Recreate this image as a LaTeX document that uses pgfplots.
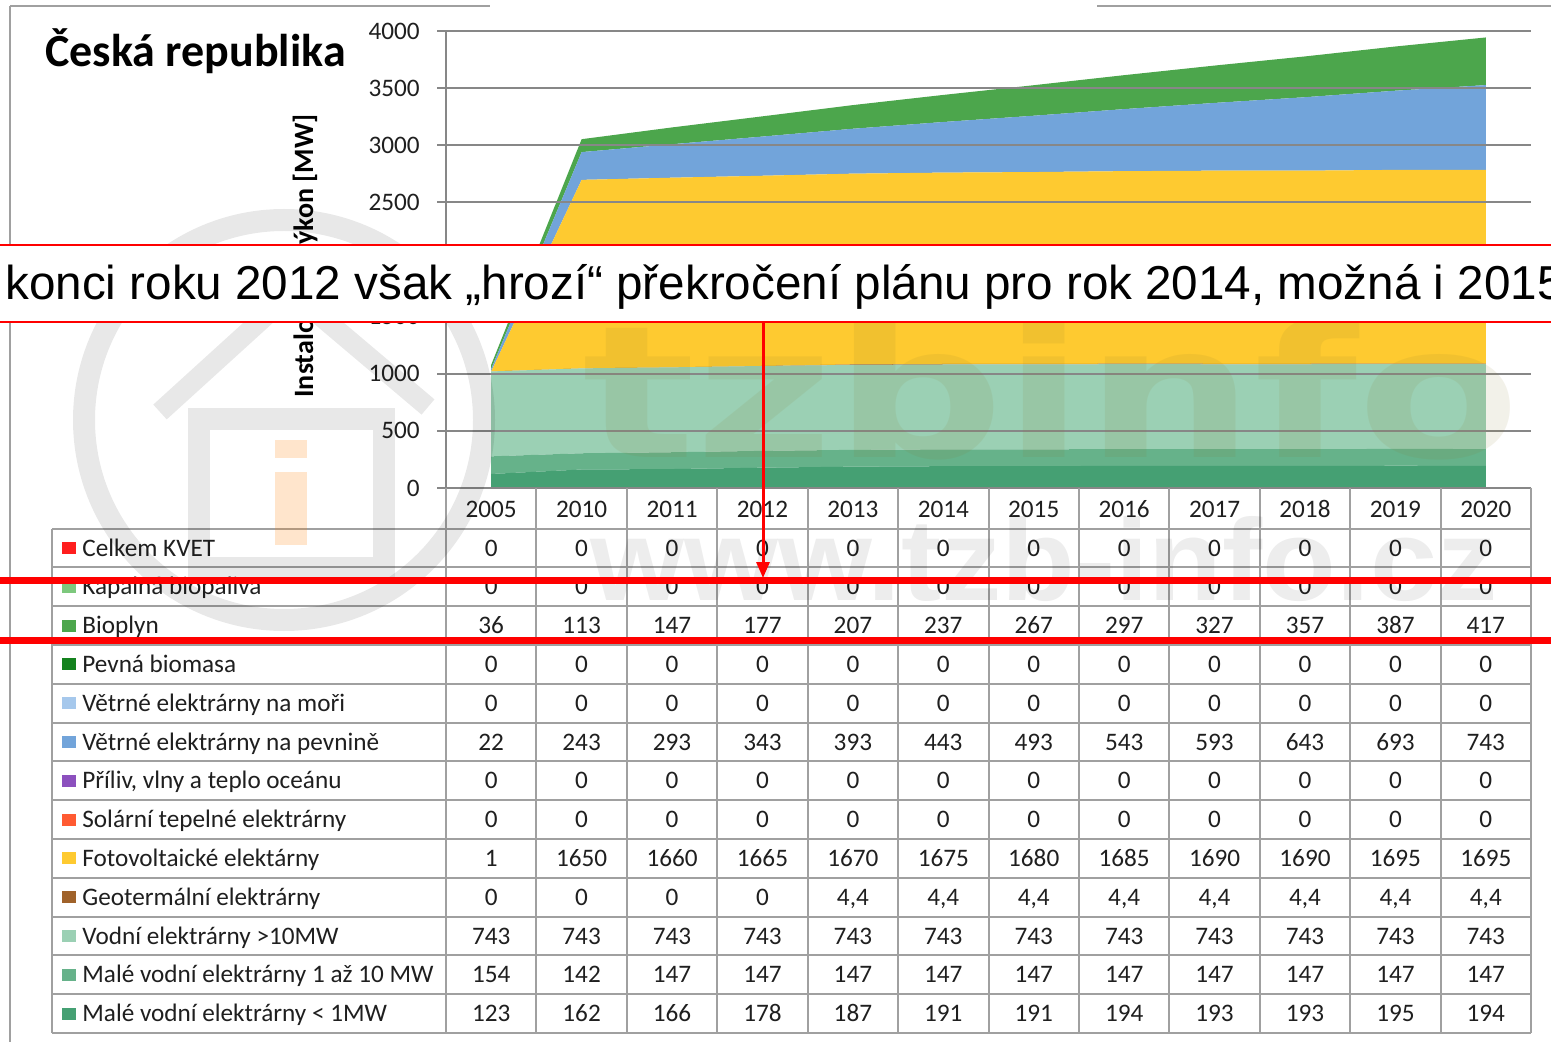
\documentclass[border=0pt]{standalone}
\usepackage{fontspec}
\setmainfont{Carlito}
\newfontfamily\arialf{Liberation Sans}
\newfontfamily\wmfont{DejaVu Sans}
\newfontfamily\wmfontb{Liberation Sans}
\usepackage{pgfplots}
\pgfplotsset{compat=1.18}
\usepackage{pgfplotstable}
\usetikzlibrary{arrows.meta}

\definecolor{cMalA}{RGB}{69,160,115}
\definecolor{cMalB}{RGB}{102,178,138}
\definecolor{cVod}{RGB}{155,208,180}
\definecolor{cGeo}{RGB}{160,98,42}
\definecolor{cFV}{RGB}{254,202,48}
\definecolor{cWind}{RGB}{114,164,218}
\definecolor{cBio}{RGB}{76,166,76}
\definecolor{cKvet}{RGB}{255,30,30}
\definecolor{cKap}{RGB}{125,200,125}
\definecolor{cPevna}{RGB}{20,130,30}
\definecolor{cSea}{RGB}{166,200,236}
\definecolor{cPriliv}{RGB}{140,80,190}
\definecolor{cSolar}{RGB}{255,90,50}
\definecolor{gridgray}{RGB}{135,135,135}
\definecolor{tgray}{RGB}{160,160,160}
\definecolor{wmtext}{RGB}{135,118,40}

\pgfplotstableread{
i mvA mvB vod geo fv wind bio
0 123 154 743 0 1 22 36
1 162 142 743 0 1650 243 113
2 166 147 743 0 1660 293 147
3 178 147 743 0 1665 343 177
4 187 147 743 4.4 1670 393 207
5 191 147 743 4.4 1675 443 237
6 191 147 743 4.4 1680 493 267
7 194 147 743 4.4 1685 543 297
8 193 147 743 4.4 1690 593 327
9 193 147 743 4.4 1690 643 357
10 195 147 743 4.4 1695 693 387
11 194 147 743 4.4 1695 743 417
}\chartdata

\begin{document}
\begin{tikzpicture}
\useasboundingbox (0pt,0pt) rectangle (775.5pt,-521pt);
\clip (0pt,0pt) rectangle (775.5pt,-521pt);
\fill[white] (0pt,0pt) rectangle (775.5pt,-521pt);

\begin{scope}[x=0.5pt,y=-0.5pt]
% outer frame pieces
\draw[tgray, line width=1pt] (10,6) -- (490,6);
\draw[tgray, line width=1pt] (1097,6) -- (1551,6);
\draw[tgray, line width=1pt] (10,6) -- (10,1042);
% title and y label
\node[anchor=base west, inner sep=0pt, font=\bfseries\fontsize{23}{26}\selectfont] at (45,67) {Česká republika};
\node[rotate=90, anchor=base, inner sep=0pt, font=\bfseries\fontsize{14}{16}\selectfont] at (313,256) {Instalovaný výkon [MW]};
\end{scope}

\begin{axis}[
  at={(223pt,-244pt)}, anchor=south west, scale only axis,
  width=542.5pt, height=228.5pt,
  xmin=-0.5, xmax=11.5, ymin=0, ymax=4000,
  stack plots=y,
  axis on top=true,
  separate axis lines,
  axis x line*=bottom, axis y line*=left,
  axis line style={-, draw=gridgray, line width=1pt},
  ymajorgrids, grid style={gridgray, line width=1pt},
  ytick={0,500,...,4000},
  xtick={0,...,11},
  xticklabels={2005,2010,2011,2012,2013,2014,2015,2016,2017,2018,2019,2020},
  major tick length=0pt,
  /pgf/number format/.cd, set thousands separator={}, assume math mode=true, /pgfplots/.cd,
  tick label style={font=\fontsize{12.6}{15}\selectfont, text=black!88},
  yticklabel style={anchor=east, inner sep=0pt, xshift=-13pt},
  xticklabel style={anchor=center, inner sep=0pt, yshift=-10.5pt},
  clip=false,
]
\addplot[fill=cMalA, draw=none] table[x=i,y=mvA]{\chartdata} \closedcycle;
\addplot[fill=cMalB, draw=none] table[x=i,y=mvB]{\chartdata} \closedcycle;
\addplot[fill=cVod, draw=none] table[x=i,y=vod]{\chartdata} \closedcycle;
\addplot[fill=cGeo, draw=none] table[x=i,y=geo]{\chartdata} \closedcycle;
\addplot[fill=cFV, draw=none] table[x=i,y=fv]{\chartdata} \closedcycle;
\addplot[fill=cWind, draw=none] table[x=i,y=wind]{\chartdata} \closedcycle;
\addplot[fill=cBio, draw=none] table[x=i,y=bio]{\chartdata} \closedcycle;
\end{axis}

\begin{scope}[x=0.5pt,y=-0.5pt]
% y tick marks
\foreach \t in {0,...,8} \draw[gridgray, line width=1pt] (437,{488-57.125*\t}) -- (446,{488-57.125*\t});

% table grid
\foreach \r in {0,...,13} \draw[tgray, line width=1pt] (52,{528.6+38.8*\r}) -- (1531,{528.6+38.8*\r});
\draw[tgray, line width=1pt] (52,528.6) -- (52,1033);
\draw[tgray, line width=1pt] (446,488) -- (446,1033);
\foreach \k in {1,...,12} \draw[tgray, line width=1pt] ({446+90.42*\k},488) -- ({446+90.42*\k},1033);

% table rows
\foreach \lab/\col/\vals [count=\r from 0] in {
 {Celkem KVET}/cKvet/{0,0,0,0,0,0,0,0,0,0,0,0},
 {Kapalná biopaliva}/cKap/{0,0,0,0,0,0,0,0,0,0,0,0},
 {Bioplyn}/cBio/{36,113,147,177,207,237,267,297,327,357,387,417},
 {Pevná biomasa}/cPevna/{0,0,0,0,0,0,0,0,0,0,0,0},
 {Větrné elektrárny na moři}/cSea/{0,0,0,0,0,0,0,0,0,0,0,0},
 {Větrné elektrárny na pevnině}/cWind/{22,243,293,343,393,443,493,543,593,643,693,743},
 {Příliv, vlny a teplo oceánu}/cPriliv/{0,0,0,0,0,0,0,0,0,0,0,0},
 {Solární tepelné elektrárny}/cSolar/{0,0,0,0,0,0,0,0,0,0,0,0},
 {Fotovoltaické elektárny}/cFV/{1,1650,1660,1665,1670,1675,1680,1685,1690,1690,1695,1695},
 {Geotermální elektrárny}/cGeo/{0,0,0,0,{4,4},{4,4},{4,4},{4,4},{4,4},{4,4},{4,4},{4,4}},
 {Vodní elektrárny >10MW}/cVod/{743,743,743,743,743,743,743,743,743,743,743,743},
 {Malé vodní elektrárny 1 až 10 MW}/cMalB/{154,142,147,147,147,147,147,147,147,147,147,147},
 {Malé vodní elektrárny < 1MW}/cMalA/{123,162,166,178,187,191,191,194,193,193,195,194}}
{
  \fill[\col] (62,{548+38.8*\r-6}) rectangle (76,{548+38.8*\r+6});
  \node[anchor=base west, inner sep=0pt, font=\fontsize{12.6}{15}\selectfont, text=black!88] at (82,{548+38.8*\r+8}) {\lab};
  \foreach \v [count=\c from 0] in \vals {
    \node[anchor=base, inner sep=0pt, font=\fontsize{12.6}{15}\selectfont, text=black!88] at ({491.2+90.42*\c},{548+38.8*\r+8}) {\v};
  }
}

% watermark
\draw[black, opacity=0.09, line width=11pt] (284,420) circle [radius=200];
\draw[black, opacity=0.09, line width=10pt] (160,412) -- (292,292) -- (428,407);
\draw[black, opacity=0.09, line width=11pt] (199,419) rectangle (384,568);
\fill[orange, opacity=0.2] (275,440) rectangle (307,458);
\fill[orange, opacity=0.2] (275,472) rectangle (307,545);
\node[anchor=base west, inner sep=0pt, text=wmtext, opacity=0.1, font=\wmfont\bfseries\fontsize{92}{100}\selectfont] at (582,458) {\scalebox{1.29}[1]{tzbinfo}};
\node[anchor=base west, inner sep=0pt, text=black, opacity=0.07, font=\wmfontb\bfseries\fontsize{58}{64}\selectfont] at (590,600) {\scalebox{1.04}[1]{www.tzb-info.cz}};

% banner
\fill[white] (0,245) rectangle (1551,322);
\draw[red, line width=1pt] (0,245) -- (1551,245);
\draw[red, line width=1pt] (0,322) -- (1551,322);
\node[anchor=base west, inner sep=0pt, font=\arialf\fontsize{23.8}{28}\selectfont] at (5,300) {konci roku 2012 však „hrozí“ překročení plánu pro rok 2014, možná i 2015};

% arrow and red lines
\draw[red, line width=1.5pt, -{Triangle[length=8pt,width=6.5pt]}] (763,323) -- (763,578);
\draw[red, line width=3.5pt] (0,580.5) -- (1551,580.5);
\draw[red, line width=3.5pt] (0,640) -- (1551,640);
\end{scope}
\end{tikzpicture}
\end{document}
